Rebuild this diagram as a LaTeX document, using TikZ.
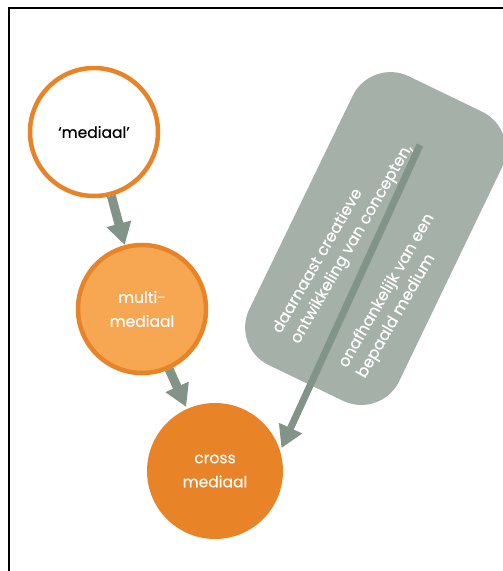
\documentclass[tikz,border=0pt]{standalone}
\usepackage{fontspec}
\setmainfont{Poppins}[FakeBold=0.35]
\usetikzlibrary{arrows.meta}

\definecolor{oranje}{RGB}{232,131,40}
\definecolor{lichtoranje}{RGB}{247,166,82}
\definecolor{grijs}{RGB}{164,176,168}
\definecolor{pijlgrijs}{RGB}{130,147,136}

\tikzset{
  cirkel/.style={circle, draw=oranje, line width=4.5pt, minimum size=128pt, inner sep=0pt,
    align=center, font=\fontsize{15.5}{24}\selectfont},
  pijl/.style={pijlgrijs, line width=9pt, -{Triangle[length=22pt,width=24pt]}},
  tekst/.style={rotate=60, text=white, align=left, inner sep=0pt, font=\fontsize{16}{21}\selectfont}
}

\begin{document}
\begin{tikzpicture}[x=1pt,y=-1pt]
\useasboundingbox (0,0) rectangle (503,571);
\clip (0,0) rectangle (503,571);
% kader
\draw[black, line width=2pt] (9,571) -- (9,8) -- (503,8);
% grijze kaart
\fill[grijs, rounded corners=42pt] (371,58) -- (520,130) -- (381,419) -- (231,347) -- cycle;
\node[tekst] (concepten) at (343,239) {daarnaast creatieve\\ontwikkeling van concepten,};
\node[tekst] (medium) at (396,296) {onafhankelijk van een\\bepaald medium};
% cirkels
\node[cirkel, fill=white] (mediaal) at (94,132) {‘mediaal’};
\node[cirkel, fill=lichtoranje, text=white] (multi) at (142,309) {multi-\\mediaal};
\node[cirkel, draw=none, fill=oranje, text=white, minimum size=136pt] (cross) at (215,471) {cross\\mediaal};
% pijlen
\draw[pijl] (mediaal) -- (multi);
\draw[pijl] (multi) -- (cross);
\coordinate (start) at (420,145);
\draw[pijl, line width=7pt] (start) -- (cross.19);
\end{tikzpicture}
\end{document}
